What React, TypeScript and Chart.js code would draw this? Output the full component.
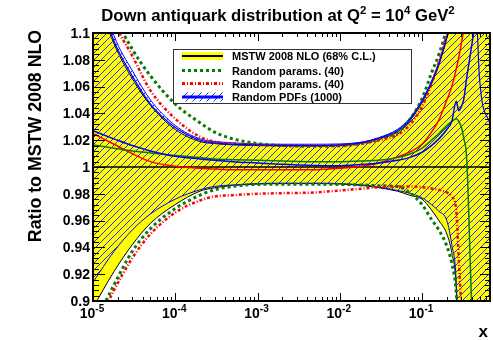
import React, { useEffect, useRef } from 'react';
import { Chart, registerables } from 'chart.js';

Chart.register(...registerables);

const FONT = '"Liberation Sans", Arial, Helvetica, sans-serif';

// x grid shared by every curve
const X_GRID = [1e-5, 1.8e-5, 3e-5, 5e-5, 1e-4, 2e-4, 3e-4, 5e-4, 1e-3, 2e-3, 5e-3, 1e-2, 2e-2, 3e-2, 5e-2, 0.07, 0.1, 0.13, 0.16, 0.2, 0.23, 0.26, 0.28, 0.3, 0.32, 0.35, 0.4, 0.5, 0.67];

// MSTW 2008 NLO 68% C.L. band (ratio to central)
const MSTW_UP = [1.135, 1.092, 1.066, 1.046, 1.028, 1.019, 1.0175, 1.0165, 1.016, 1.0158, 1.0157, 1.016, 1.018, 1.021, 1.026, 1.034, 1.048, 1.062, 1.076, 1.096, 1.112, 1.13, 1.15, 1.17, 1.2, 1.2, 1.2, 1.2, 1.2];
const MSTW_LO = [0.895, 0.922, 0.942, 0.958, 0.972, 0.982, 0.9845, 0.9862, 0.9873, 0.9876, 0.9876, 0.9873, 0.986, 0.9845, 0.982, 0.979, 0.976, 0.968, 0.96, 0.95, 0.936, 0.91, 0.85, 0.8, 0.8, 0.8, 0.8, 0.8, 0.8];

// Random PDFs (1000) envelope
const PDF_UP = [1.15, 1.098, 1.072, 1.05, 1.031, 1.021, 1.019, 1.018, 1.0172, 1.017, 1.017, 1.0172, 1.019, 1.022, 1.028, 1.036, 1.05, 1.064, 1.078, 1.098, 1.115, 1.14, 1.16, 1.18, 1.2, 1.2, 1.2, 1.2, 1.2];
const PDF_LO = [0.914, 0.937, 0.953, 0.965, 0.976, 0.983, 0.9855, 0.9866, 0.9876, 0.9879, 0.9879, 0.9876, 0.9865, 0.985, 0.9825, 0.9805, 0.977, 0.972, 0.967, 0.96, 0.942, 0.915, 0.85, 0.8, 0.8, 0.8, 0.8, 0.8, 0.8];

// Random params. (40), first set (green dotted)
const PARAM_A_UP = [1.17, 1.115, 1.088, 1.068, 1.047, 1.033, 1.026, 1.021, 1.0175, 1.016, 1.0155, 1.0158, 1.018, 1.021, 1.026, 1.035, 1.051, 1.07, 1.084, 1.105, 1.13, 1.16, 1.2, 1.2, 1.2, 1.2, 1.2, 1.2, 1.2];
const PARAM_A_LO = [0.88, 0.912, 0.937, 0.954, 0.969, 0.979, 0.983, 0.9855, 0.987, 0.9872, 0.9872, 0.987, 0.9865, 0.986, 0.9855, 0.981, 0.972, 0.961, 0.953, 0.941, 0.928, 0.907, 0.87, 0.8, 0.8, 0.8, 0.8, 0.8, 0.8];

// Random params. (40), second set (red dash-dot)
const PARAM_B_UP = [1.15, 1.108, 1.083, 1.057, 1.036, 1.0225, 1.019, 1.0175, 1.0165, 1.016, 1.0158, 1.016, 1.018, 1.02, 1.024, 1.031, 1.045, 1.062, 1.078, 1.1, 1.12, 1.15, 1.2, 1.2, 1.2, 1.2, 1.2, 1.2, 1.2];
const PARAM_B_LO = [0.875, 0.908, 0.932, 0.95, 0.966, 0.975, 0.978, 0.979, 0.98, 0.9805, 0.981, 0.9825, 0.984, 0.985, 0.9855, 0.9855, 0.985, 0.984, 0.983, 0.981, 0.978, 0.968, 0.93, 0.895, 0.85, 0.8, 0.8, 0.8, 0.8];

// individual solid curves
const RED_LINE = [1.025, 1.017, 1.01, 1.004, 1.0005, 0.999, 0.9985, 0.998, 0.998, 0.998, 0.998, 0.999, 1.001, 1.003, 1.0075, 1.011, 1.017, 1.026, 1.035, 1.05, 1.06, 1.073, 1.082, 1.092, 1.102, 1.12, 1.15, 1.2, 1.2];
const GREEN_LINE = [1.0164, 1.014, 1.012, 1.0105, 1.0085, 1.007, 1.006, 1.0055, 1.005, 1.0045, 1.004, 1.004, 1.0045, 1.005, 1.007, 1.0095, 1.014, 1.02, 1.025, 1.031, 1.034, 1.036, 1.034, 1.03, 1.022, 1.005, 0.9, 0.8, 0.8];
const BLUE_LINE_A = [1.027, 1.021, 1.016, 1.012, 1.008, 1.006, 1.005, 1.004, 1.003, 1.002, 1.0012, 1.001, 1.002, 1.003, 1.005, 1.007, 1.011, 1.016, 1.021, 1.028, 1.034, 1.049, 1.042, 1.045, 1.05, 1.067, 1.09, 1.13, 1.2];
const BLUE_LINE_B = [1.142, 1.094, 1.068, 1.047, 1.0295, 1.02, 1.018, 1.017, 1.0165, 1.0162, 1.016, 1.0165, 1.0185, 1.0215, 1.027, 1.035, 1.049, 1.063, 1.077, 1.097, 1.114, 1.14, 1.17, 1.2, 1.2, 1.2, 1.2, 1.066, 1.032];

// axes
const X_MIN = 1e-5;
const X_MAX = 0.67;
const Y_MIN = 0.9;
const Y_MAX = 1.1;
const X_DECADES = [-5, -4, -3, -2, -1];
const Y_TICKS = [0.9, 0.92, 0.94, 0.96, 0.98, 1, 1.02, 1.04, 1.06, 1.08, 1.1];

const TITLE_PARTS = [
  { t: 'Down antiquark distribution at Q' },
  { t: '2', sup: true },
  { t: ' = 10' },
  { t: '4', sup: true },
  { t: ' GeV' },
  { t: '2', sup: true },
];
const Y_TITLE = 'Ratio to MSTW 2008 NLO';
const X_TITLE = 'x';
const LEGEND_LABELS = ['MSTW 2008 NLO (68% C.L.)', 'Random params. (40)', 'Random params. (40)', 'Random PDFs (1000)'];

const YELLOW = '#ffff00';
const GREEN = '#077a07';
const RED = '#ff0000';
const BLUE = '#0000ff';
const HATCH_BLUE = '#2828ff';
const GREEN_DASH = [3, 3];
const RED_DASH = [3, 2, 1, 2];

type Part = { t: string; sup?: boolean };

function makeHatch(): CanvasPattern | string {
  const s = 7;
  const c = document.createElement('canvas');
  c.width = s;
  c.height = s;
  const g = c.getContext('2d');
  if (!g) return HATCH_BLUE;
  g.strokeStyle = HATCH_BLUE;
  g.lineWidth = 1;
  g.beginPath();
  g.moveTo(-1, s + 1);
  g.lineTo(s + 1, -1);
  g.moveTo(-1, 1);
  g.lineTo(1, -1);
  g.moveTo(s - 1, s + 1);
  g.lineTo(s + 1, s - 1);
  g.stroke();
  return g.createPattern(c, 'repeat') || HATCH_BLUE;
}

function drawRich(ctx: CanvasRenderingContext2D, parts: Part[], cx: number, baseline: number, size: number, supSize: number, rise: number) {
  let total = 0;
  const widths: number[] = [];
  for (const p of parts) {
    ctx.font = `bold ${p.sup ? supSize : size}px ${FONT}`;
    const w = ctx.measureText(p.t).width;
    widths.push(w);
    total += w;
  }
  let x = cx - total / 2;
  ctx.textAlign = 'left';
  ctx.textBaseline = 'alphabetic';
  parts.forEach((p, i) => {
    ctx.font = `bold ${p.sup ? supSize : size}px ${FONT}`;
    ctx.fillText(p.t, x, baseline - (p.sup ? rise : 0));
    x += widths[i];
  });
}

function fmtY(v: number) {
  return String(parseFloat(v.toFixed(2)));
}

export default function App() {
  const ref = useRef<HTMLCanvasElement>(null);

  useEffect(() => {
    const canvas = ref.current;
    if (!canvas) return;
    const hatch = makeHatch();
    const pts = (ys: number[]) => X_GRID.map((x, i) => ({ x, y: ys[i] }));

    const line = (data: number[], color: string, width: number, order: number, dash: number[] = [], extra: any = {}) => ({
      data: pts(data),
      borderColor: color,
      borderWidth: width,
      borderDash: dash,
      pointRadius: 0,
      fill: false,
      order,
      clip: 0,
      cubicInterpolationMode: 'monotone',
      ...extra,
    });

    const framePlugin = {
      id: 'rootFrame',
      afterDraw(chart: any) {
        const { ctx, chartArea: a, scales } = chart;
        const xs = scales.x;
        const ys = scales.y;
        ctx.save();
        ctx.strokeStyle = '#000';
        ctx.fillStyle = '#000';
        ctx.lineWidth = 1;
        ctx.setLineDash([]);

        // x ticks, bottom and top, pointing inward
        ctx.beginPath();
        for (let e = -5; e <= 0; e++) {
          for (let m = 1; m <= 9; m++) {
            const v = m * Math.pow(10, e);
            if (v < X_MIN * 0.999 || v > X_MAX) continue;
            const px = Math.round(xs.getPixelForValue(v)) + 0.5;
            const len = m === 1 ? 8 : 4;
            ctx.moveTo(px, a.bottom);
            ctx.lineTo(px, a.bottom - len);
            ctx.moveTo(px, a.top);
            ctx.lineTo(px, a.top + len);
          }
        }
        // y ticks, left and right
        for (let i = 0; i <= 50; i++) {
          const v = (900 + 4 * i) / 1000;
          const py = Math.round(ys.getPixelForValue(v)) + 0.5;
          const major = i % 5 === 0;
          ctx.moveTo(a.left, py);
          ctx.lineTo(a.left + (major ? 12 : 6), py);
          ctx.moveTo(a.right, py);
          ctx.lineTo(a.right - (major ? 10 : 5), py);
        }
        ctx.stroke();

        // frame
        ctx.lineWidth = 2;
        ctx.strokeRect(a.left, a.top, a.right - a.left, a.bottom - a.top);

        // y tick labels
        ctx.font = `bold 14px ${FONT}`;
        ctx.textAlign = 'right';
        ctx.textBaseline = 'middle';
        for (const v of Y_TICKS) {
          ctx.fillText(fmtY(v), a.left - 3, ys.getPixelForValue(v) + 1);
        }

        // x tick labels 10^n
        for (const e of X_DECADES) {
          const px = xs.getPixelForValue(Math.pow(10, e));
          drawRich(ctx, [{ t: '10' }, { t: String(e), sup: true }], px - 1, 318, 14, 10, 6);
        }

        // titles
        drawRich(ctx, TITLE_PARTS, 278, 21, 16.7, 11.5, 7);
        ctx.font = `bold 17px ${FONT}`;
        ctx.textAlign = 'right';
        ctx.textBaseline = 'alphabetic';
        ctx.fillText(X_TITLE, 488, 337);
        ctx.save();
        ctx.font = `bold 17.8px ${FONT}`;
        ctx.translate(41, 136);
        ctx.rotate(-Math.PI / 2);
        ctx.textAlign = 'center';
        ctx.fillText(Y_TITLE, 0, 0);
        ctx.restore();

        // legend box
        const bx = 173, by = 49.5, bw = 238, bh = 54;
        ctx.fillStyle = '#fff';
        ctx.fillRect(bx, by, bw, bh);
        ctx.strokeStyle = '#333';
        ctx.lineWidth = 1;
        ctx.strokeRect(bx + 0.5, by, bw, bh);

        const sx0 = 182, sx1 = 223;
        const rows = [56, 70.5, 83.5, 97];
        // row 1: yellow band with black central line
        ctx.fillStyle = YELLOW;
        ctx.fillRect(sx0, rows[0] - 4, sx1 - sx0, 8);
        ctx.strokeStyle = '#000';
        ctx.lineWidth = 2;
        ctx.beginPath();
        ctx.moveTo(sx0, rows[0]);
        ctx.lineTo(sx1, rows[0]);
        ctx.stroke();
        // row 2: green dotted
        ctx.strokeStyle = GREEN;
        ctx.lineWidth = 3;
        ctx.setLineDash(GREEN_DASH);
        ctx.beginPath();
        ctx.moveTo(sx0, rows[1]);
        ctx.lineTo(sx1, rows[1]);
        ctx.stroke();
        // row 3: red dash-dot
        ctx.strokeStyle = RED;
        ctx.setLineDash(RED_DASH);
        ctx.beginPath();
        ctx.moveTo(sx0, rows[2]);
        ctx.lineTo(sx1, rows[2]);
        ctx.stroke();
        ctx.setLineDash([]);
        // row 4: hatched with blue line
        ctx.fillStyle = hatch as any;
        ctx.fillRect(sx0, rows[3] - 4.5, sx1 - sx0, 9);
        ctx.strokeStyle = BLUE;
        ctx.lineWidth = 3;
        ctx.beginPath();
        ctx.moveTo(sx0, rows[3]);
        ctx.lineTo(sx1, rows[3]);
        ctx.stroke();

        ctx.fillStyle = '#000';
        ctx.font = `bold 11px ${FONT}`;
        ctx.textAlign = 'left';
        ctx.textBaseline = 'alphabetic';
        LEGEND_LABELS.forEach((s, i) => ctx.fillText(s, 232, rows[i] + 4));
        ctx.restore();
      },
    };

    const chart = new Chart(canvas, {
      type: 'line',
      data: {
        datasets: [
          line(MSTW_UP, '#000', 1, 20, [], { fill: '+1', backgroundColor: YELLOW }),
          line(MSTW_LO, '#000', 1, 19),
          line(PDF_UP, BLUE, 1, 18, [], { fill: '+1', backgroundColor: hatch }),
          line(PDF_LO, BLUE, 1, 17),
          {
            data: [{ x: X_MIN, y: 1 }, { x: X_MAX, y: 1 }],
            borderColor: '#000',
            borderWidth: 1.5,
            pointRadius: 0,
            fill: false,
            order: 16,
          },
          line(PARAM_A_UP, GREEN, 3, 15, GREEN_DASH),
          line(PARAM_A_LO, GREEN, 3, 14, GREEN_DASH),
          line(PARAM_B_UP, RED, 2.5, 13, RED_DASH),
          line(PARAM_B_LO, RED, 2.5, 12, RED_DASH),
          line(RED_LINE, RED, 1.5, 11),
          line(GREEN_LINE, GREEN, 1.5, 10),
          line(BLUE_LINE_B, BLUE, 1.2, 9),
          line(BLUE_LINE_A, BLUE, 1.5, 8),
        ] as any,
      },
      options: {
        responsive: false,
        maintainAspectRatio: false,
        devicePixelRatio: 1,
        animation: false,
        events: [],
        layout: { padding: { left: 93, right: 3, top: 33, bottom: 39 } },
        plugins: {
          legend: { display: false },
          tooltip: { enabled: false },
          title: { display: false },
        },
        scales: {
          x: { type: 'logarithmic', min: X_MIN, max: X_MAX, display: false },
          y: { type: 'linear', min: Y_MIN, max: Y_MAX, display: false },
        },
      } as any,
      plugins: [framePlugin],
    });
    return () => chart.destroy();
  }, []);

  return (
    <div style={{ position: 'fixed', left: 0, top: 0, width: 493, height: 340, background: '#fff' }}>
      <canvas ref={ref} width={493} height={340} style={{ width: '493px', height: '340px', display: 'block' }} />
    </div>
  );
}
